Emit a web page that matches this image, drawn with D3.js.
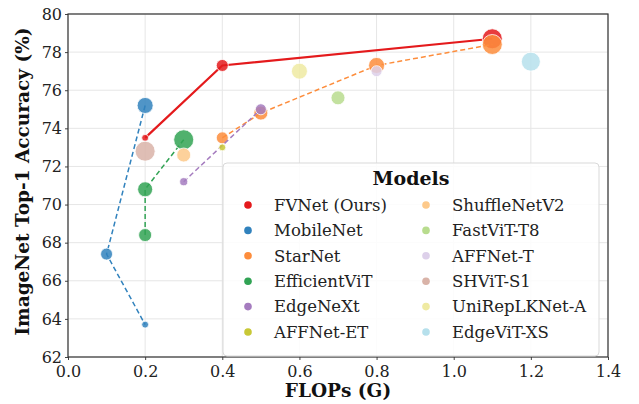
<!DOCTYPE html>
<html>
<head>
<meta charset="utf-8">
<script src="https://cdn.jsdelivr.net/npm/d3@7"></script>
<style>
  body { margin: 0; background: #fff; }
  text { font-family: "DejaVu Serif", serif; }
</style>
</head>
<body>
<div id="chart"></div>
<script>
// models, in legend order
let models = ["FVNet (Ours)", "MobileNet", "StarNet", "EfficientViT", "EdgeNeXt", "AFFNet-ET",
              "ShuffleNetV2", "FastViT-T8", "AFFNet-T", "SHViT-S1", "UniRepLKNet-A", "EdgeViT-XS"];
let colors = ["#e41a1c", "#3182bd", "#fd8d3c", "#31a354", "#a57cbf", "#c8c836",
              "#fdc98a", "#b8dc8e", "#ddd0ea", "#d9b3a8", "#efeaa2", "#b6e0ec"];
let connected = [true, true, true, true, true, false, false, false, false, false, false, false];

// FLOPs (G), top-1 (%), size (params-ish) per model
let flops = [
  [0.2, 0.4, 1.1],
  [0.2, 0.1, 0.2],
  [0.4, 0.5, 0.8, 1.1],
  [0.2, 0.2, 0.3],
  [0.3, 0.5],
  [0.4],
  [0.3],
  [0.7],
  [0.8],
  [0.2],
  [0.6],
  [1.2]
];
let acc = [
  [73.5, 77.3, 78.7],
  [75.2, 67.4, 63.7],
  [73.5, 74.8, 77.3, 78.4],
  [68.4, 70.8, 73.4],
  [71.2, 75.0],
  [73.0],
  [72.6],
  [75.6],
  [77.0],
  [72.8],
  [77.0],
  [77.5]
];
let params = [
  [1.1, 3.3, 9.2],
  [5.9, 3.3, 1.1],
  [3.3, 4.5, 5.9, 9.2],
  [3.9, 5.2, 9.2],
  [1.5, 2.8],
  [1.1],
  [4.5],
  [4.5],
  [2.8],
  [9.2],
  [5.9],
  [8.3]
];

let xTicks = [0.0, 0.2, 0.4, 0.6, 0.8, 1.0, 1.2, 1.4];
let yTicks = [62, 64, 66, 68, 70, 72, 74, 76, 78, 80];

let width = 639, height = 404;
let mLeft = 68, mRight = 608, mTop = 14, mBottom = 357;

let x = d3.scaleLinear().domain([0, 1.4]).range([mLeft, mRight]);
let y = d3.scaleLinear().domain([62, 80]).range([mBottom, mTop]);
let r = d3.scaleSqrt().domain([0, 9.2]).range([0, 10]);

let svg = d3.select("#chart").append("svg")
  .attr("width", width)
  .attr("height", height);

// grid
svg.append("g").selectAll("line").data(xTicks).enter().append("line")
  .attr("x1", d => x(d)).attr("x2", d => x(d))
  .attr("y1", mTop).attr("y2", mBottom)
  .attr("stroke", "#e6e6e6").attr("stroke-width", 1);
svg.append("g").selectAll("line").data(yTicks).enter().append("line")
  .attr("x1", mLeft).attr("x2", mRight)
  .attr("y1", d => y(d)).attr("y2", d => y(d))
  .attr("stroke", "#e6e6e6").attr("stroke-width", 1);

// axes
let xAxis = svg.append("g")
  .attr("transform", "translate(0," + mBottom + ")")
  .call(d3.axisBottom(x).tickValues(xTicks).tickFormat(d3.format(".1f")).tickSize(3).tickPadding(6));
let yAxis = svg.append("g")
  .attr("transform", "translate(" + mLeft + ",0)")
  .call(d3.axisLeft(y).tickValues(yTicks).tickSize(3).tickPadding(3));
[xAxis, yAxis].forEach(function(a) {
  a.select(".domain").remove();
  a.selectAll("line").attr("stroke", "#444");
  a.selectAll("text")
    .style("font-family", "'DejaVu Serif', serif")
    .style("font-size", "16px")
    .attr("fill", "#222");
});

// frame
svg.append("rect")
  .attr("x", mLeft).attr("y", mTop)
  .attr("width", mRight - mLeft).attr("height", mBottom - mTop)
  .attr("fill", "none").attr("stroke", "#333").attr("stroke-width", 1.2);

// series
let line = d3.line().x(d => x(d[0])).y(d => y(d[1]));

models.forEach(function(m, i) {
  let pts = flops[i].map((f, j) => [f, acc[i][j], params[i][j]]);
  let g = svg.append("g");
  if (connected[i]) {
    g.append("path")
      .attr("d", line(pts))
      .attr("fill", "none")
      .attr("stroke", colors[i])
      .attr("stroke-width", i === 0 ? 2.2 : 1.5)
      .attr("stroke-dasharray", i === 0 ? null : "5,3");
  }
  g.selectAll("circle").data(pts).enter().append("circle")
    .attr("cx", d => x(d[0]))
    .attr("cy", d => y(d[1]))
    .attr("r", d => r(d[2]))
    .attr("fill", colors[i])
    .attr("fill-opacity", 0.85)
    .attr("stroke", "#fff")
    .attr("stroke-width", 0.8);
});

// legend
let lg = svg.append("g");
lg.append("rect")
  .attr("x", 223).attr("y", 163)
  .attr("width", 376).attr("height", 193)
  .attr("rx", 4)
  .attr("fill", "#fff").attr("fill-opacity", 0.85)
  .attr("stroke", "#d9d9d9").attr("stroke-width", 1);
lg.append("text")
  .attr("x", 411).attr("y", 185)
  .attr("text-anchor", "middle")
  .style("font-size", "19px").style("font-weight", "bold")
  .attr("fill", "#111")
  .text("Models");

let item = lg.selectAll(".item").data(models).enter().append("g")
  .attr("class", "item")
  .attr("transform", function(d, i) {
    let col = Math.floor(i / 6), row = i % 6;
    return "translate(" + (248 + col * 178) + "," + (205 + row * 25.4) + ")";
  });
item.append("circle")
  .attr("r", 3.8)
  .attr("fill", (d, i) => colors[i]);
item.append("text")
  .attr("x", 26).attr("dy", "0.35em")
  .style("font-size", "16.5px")
  .attr("fill", "#222")
  .text(d => d);

// axis titles
svg.append("text")
  .attr("x", (mLeft + mRight) / 2).attr("y", 397)
  .attr("text-anchor", "middle")
  .style("font-size", "18.5px").style("font-weight", "bold")
  .attr("fill", "#111")
  .text("FLOPs (G)");
svg.append("text")
  .attr("transform", "translate(29," + ((mTop + mBottom) / 2 - 4) + ") rotate(-90)")
  .attr("text-anchor", "middle")
  .style("font-size", "18.5px").style("font-weight", "bold")
  .attr("fill", "#111")
  .text("ImageNet Top-1 Accuracy (%)");
</script>
</body>
</html>
